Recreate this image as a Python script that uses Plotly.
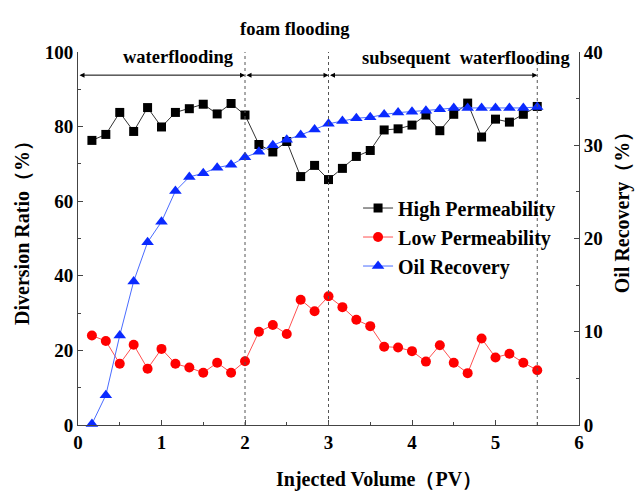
import plotly.graph_objects as go

# Injected volume (PV)
pv = [k / 6 for k in range(1, 34)]

high_perm = [76.3, 77.9, 83.8, 78.7, 85.1, 79.9, 83.8, 84.8, 86.0, 83.4, 86.2, 83.1,
             75.2, 73.2, 76.0, 66.6, 69.6, 65.8,
             68.8, 72.0, 73.6, 79.1, 79.4, 80.4, 83.1, 78.9, 83.3, 86.3, 77.2, 82.0, 81.2, 83.3, 85.4]

low_perm = [24.0, 22.5, 16.4, 21.5, 15.1, 20.4, 16.4, 15.4, 14.0, 16.7, 14.0, 17.1,
            25.0, 26.8, 24.4, 33.6, 30.5, 34.5,
            31.6, 28.2, 26.5, 21.0, 20.8, 19.8, 17.0, 21.4, 16.7, 13.9, 23.2, 18.1, 19.1, 16.7, 14.7]

oil_recovery = [0.1, 3.2, 9.6, 15.4, 19.6, 21.8, 25.1, 26.6, 27.0, 27.6, 27.9, 28.7,
                29.3, 30.0, 30.6, 31.1, 31.7, 32.3,
                32.6, 32.9, 33.0, 33.3, 33.5, 33.6, 33.7, 33.85, 34.0, 34.0, 34.0, 34.0, 34.0, 34.0, 34.1]

stage_bounds = [0, 2, 3, 5.5]
stage_labels = ["waterflooding", "foam flooding", "subsequent  waterflooding"]

FONT = "Liberation Serif"
bold = dict(family=FONT, size=20, color="black", weight="bold")
tickf = dict(family=FONT, size=19, color="black", weight="bold")
stagef = dict(family=FONT, size=18.5, color="black", weight="bold")

fig = go.Figure()
fig.add_trace(go.Scatter(x=pv, y=high_perm, name="High Permeability", mode="lines+markers",
                         line=dict(color="#333333", width=1),
                         marker=dict(symbol="square", size=9, color="black"),
                         cliponaxis=False))
fig.add_trace(go.Scatter(x=pv, y=low_perm, name="Low Permeability", mode="lines+markers",
                         line=dict(color="#ff5050", width=1),
                         marker=dict(symbol="circle", size=10, color="#ff0000"),
                         cliponaxis=False))
fig.add_trace(go.Scatter(x=pv, y=oil_recovery, name="Oil Recovery", mode="lines+markers",
                         line=dict(color="#4a6cff", width=1),
                         marker=dict(symbol="triangle-up", size=11, color="#0a2aff"),
                         yaxis="y2", cliponaxis=False))

# dashed stage boundaries
for xb in stage_bounds[1:]:
    fig.add_shape(type="line", x0=xb, x1=xb, y0=0, y1=1, xref="x", yref="paper",
                  line=dict(color="#555555", width=1, dash="dot"))

# double-headed arrows
arrow_y = 93.8
for a, b in zip(stage_bounds[:-1], stage_bounds[1:]):
    fig.add_annotation(x=b, y=arrow_y, ax=a, ay=arrow_y, xref="x", yref="y", axref="x", ayref="y",
                       text="", showarrow=True, arrowhead=2, startarrowhead=2, arrowside="end+start",
                       arrowsize=1, arrowwidth=1, arrowcolor="black")

fig.add_annotation(x=1.2, y=98.7, xref="x", yref="y", text=stage_labels[0], showarrow=False,
                   font=stagef)
fig.add_annotation(x=2.6, y=1.094, xref="x", yref="paper", text=stage_labels[1], showarrow=False,
                   font=stagef)
fig.add_annotation(x=4.65, y=98.5, xref="x", yref="y", text=stage_labels[2], showarrow=False,
                   font=stagef)

# axis titles
fig.add_annotation(x=0.601, y=-0.147, xref="paper", yref="paper", text="Injected Volume（PV）",
                   showarrow=False, font=bold, xanchor="center", yanchor="middle")
fig.add_annotation(x=-0.112, y=0.528, xref="paper", yref="paper", text="Diversion Ratio（%）",
                   showarrow=False, font=bold, textangle=-90, xanchor="center", yanchor="middle")
fig.add_annotation(x=1.086, y=0.584, xref="paper", yref="paper", text="Oil Recovery（%）",
                   showarrow=False, font=bold, textangle=-90, xanchor="center", yanchor="middle")

fig.update_layout(
    width=635, height=491,
    margin=dict(l=78, r=56, t=52, b=66),
    plot_bgcolor="white", paper_bgcolor="white",
    font=dict(family=FONT, size=16, color="black"),
    showlegend=True,
    legend=dict(x=0.559, y=0.634, xanchor="left", yanchor="top", bgcolor="rgba(0,0,0,0)",
                font=bold, tracegroupgap=0, itemwidth=30),
    xaxis=dict(range=[0, 6], dtick=1, showline=True, linecolor="#444", linewidth=1,
               ticks="inside", ticklen=5, tickcolor="#444", showgrid=False, zeroline=False,
               minor=dict(ticks="inside", dtick=0.5, ticklen=3, tickcolor="#444", showgrid=False),
               tickfont=tickf),
    yaxis=dict(range=[0, 100], dtick=20, showline=True, linecolor="#444", linewidth=1,
               ticks="inside", ticklen=5, tickcolor="#444", showgrid=False, zeroline=False,
               minor=dict(ticks="inside", dtick=10, ticklen=3, tickcolor="#444", showgrid=False),
               tickfont=tickf),
    yaxis2=dict(range=[0, 40], dtick=10, overlaying="y", side="right", showline=True,
                linecolor="#444", linewidth=1, ticks="inside", ticklen=5, tickcolor="#444",
                showgrid=False, zeroline=False,
                minor=dict(ticks="inside", dtick=5, ticklen=3, tickcolor="#444", showgrid=False),
                tickfont=tickf),
)

fig.write_html("out.html")
